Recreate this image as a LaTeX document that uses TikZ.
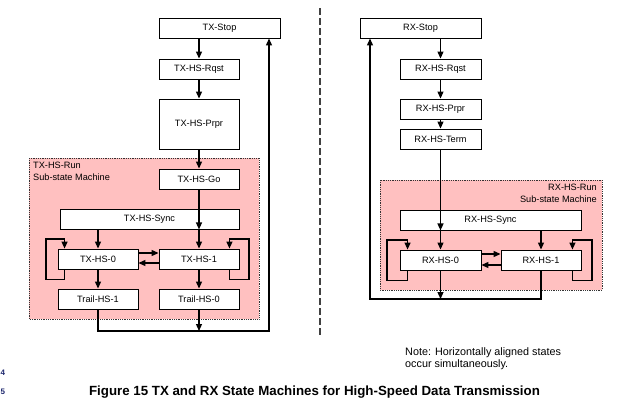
\documentclass[tikz,border=0pt]{standalone}
\usepackage{fontspec}
\setmainfont{Liberation Sans}
\usetikzlibrary{arrows.meta}
\definecolor{runpink}{RGB}{255,192,192}
\definecolor{linenum}{RGB}{30,40,110}
\begin{document}
\begin{tikzpicture}[x=1pt,y=-1pt,
  stbox/.style={draw=black,line width=0.9pt,fill=white,inner sep=0pt,minimum width=80pt,minimum height=20pt,font=\fontsize{9.2}{10}\selectfont},
  arr/.style={line width=1.2pt,-{Triangle[length=7pt,width=6pt]}},
  runbox/.style={fill=runpink,draw=black!80,line width=0.8pt,densely dotted},
  lbl/.style={font=\fontsize{9.2}{11.5}\selectfont,inner sep=0pt}]
\useasboundingbox (0,0) rectangle (635,413);
% separator
\draw[line width=1.3pt,dash pattern=on 7pt off 3pt,black!75] (320,8) -- (320,338);
% pink regions
\draw[runbox] (29,158) rectangle (259,319);
\draw[runbox] (380,180) rectangle (602,290);
\node[lbl,anchor=north west,align=left] (txrunlbl) at (33,162) {TX-HS-Run\\Sub-state Machine};
\node[lbl,anchor=north east,align=right] (rxrunlbl) at (597,184) {RX-HS-Run\\Sub-state Machine};
% TX nodes
\node[stbox,minimum width=121pt] (txstop) at (219.5,28) {TX-Stop};
\node[stbox] (txrqst) at (199,69) {TX-HS-Rqst};
\node[stbox,minimum height=50pt] (txprpr) at (199,124) {TX-HS-Prpr};
\node[stbox] (txgo) at (199,179) {TX-HS-Go};
\node[stbox,minimum width=179pt] (txsync) at (149.5,219) {TX-HS-Sync};
\node[stbox] (txhs0) at (98,259) {TX-HS-0};
\node[stbox] (txhs1) at (199,259) {TX-HS-1};
\node[stbox] (trail1) at (98,299) {Trail-HS-1};
\node[stbox] (trail0) at (199,299) {Trail-HS-0};
\coordinate (txret) at (269,331);
% TX connectors
\draw[arr] (txstop.south -| txrqst) -- (txrqst.north);
\draw[arr] (txrqst) -- (txprpr.north);
\draw[arr] (txprpr) -- (txgo.north);
\draw[arr] (txgo) -- (txsync.south -| txgo);
\draw[arr] (txsync.south -| txhs0) -- (txhs0.north);
\draw[arr] (txsync.south -| txhs1) -- (txhs1.north);
\draw[arr] ([yshift=6pt]txhs0.east) -- ([yshift=6pt]txhs1.west);
\draw[arr] ([yshift=-4pt]txhs1.west) -- ([yshift=-4pt]txhs0.east);
\draw[arr] ([xshift=7pt]txhs0.south west) -- ++(0,10) -| (46,239) -| ([xshift=7pt]txhs0.north west);
\draw[arr] ([xshift=-10pt]txhs1.south east) -- ++(0,10) -| (249,239) -| ([xshift=-10pt]txhs1.north east);
\draw[arr] (txhs0) -- (trail1.north);
\draw[arr] (txhs1) -- (trail0.north);
\draw[arr] (trail1.south) |- (txret) -- (txret |- txstop.south);
\draw[arr] (trail0.south) -- (trail0.south |- txret);
% RX nodes
\node[stbox,minimum width=121pt] (rxstop) at (420.5,28) {RX-Stop};
\node[stbox,minimum width=81pt] (rxrqst) at (440.5,69) {RX-HS-Rqst};
\node[stbox,minimum width=81pt] (rxprpr) at (440.5,109) {RX-HS-Prpr};
\node[stbox,minimum width=81pt] (rxterm) at (440.5,139) {RX-HS-Term};
\node[stbox,minimum width=181pt] (rxsync) at (490.5,220) {RX-HS-Sync};
\node[stbox,minimum width=81pt] (rxhs0) at (440.5,260) {RX-HS-0};
\node[stbox] (rxhs1) at (541,260) {RX-HS-1};
\coordinate (rxret) at (370,299);
% RX connectors
\draw[arr] (rxstop.south -| rxrqst) -- (rxrqst.north);
\draw[arr] (rxrqst) -- (rxprpr.north);
\draw[arr] (rxprpr) -- (rxterm.north);
\draw[arr] (rxterm) -- (rxsync.south -| rxterm);
\draw[arr] (rxsync.south -| rxhs0) -- (rxhs0.north);
\draw[arr] (rxsync.south -| rxhs1) -- (rxhs1.north);
\draw[arr] ([yshift=6pt]rxhs0.east) -- ([yshift=6pt]rxhs1.west);
\draw[arr] ([yshift=-5pt]rxhs1.west) -- ([yshift=-5pt]rxhs0.east);
\draw[arr] ([xshift=8pt]rxhs0.south west) -- ++(0,10) -| (387,240) -| ([xshift=8pt]rxhs0.north west);
\draw[arr] ([xshift=-9pt]rxhs1.south east) -- ++(0,10) -| (592,240) -| ([xshift=-9pt]rxhs1.north east);
\draw[arr] (rxhs1.south) |- (rxret) -- (rxret |- rxstop.south);
\draw[arr] (rxhs0.south) -- (rxhs0.south |- rxret);
% note and caption
\node[anchor=north west,align=left,inner sep=0pt,font=\fontsize{10.8}{12.5}\selectfont] (note) at (405,347) {Note: Horizontally aligned states\\occur simultaneously.};
\node[anchor=center,inner sep=0pt,font=\fontsize{13.3}{15}\selectfont\bfseries] (caption) at (314.5,392) {Figure 15 TX and RX State Machines for High-Speed Data Transmission};
\node[anchor=west,inner sep=0pt,text=linenum,font=\fontsize{8}{9}\selectfont\bfseries] (ln4) at (0.5,373) {4};
\node[anchor=west,inner sep=0pt,text=linenum,font=\fontsize{8}{9}\selectfont\bfseries] (ln5) at (0.5,392) {5};
\end{tikzpicture}
\end{document}
